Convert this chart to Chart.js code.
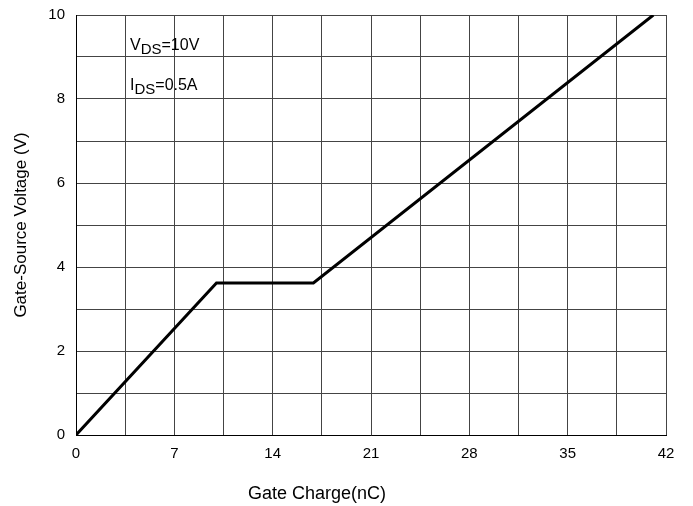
<!DOCTYPE html>
<html>
<head>
<meta charset="utf-8">
<script src="https://cdn.jsdelivr.net/npm/chart.js@4"></script>
<style>
  html, body { margin: 0; padding: 0; background: #fff; }
  #wrap { width: 693px; height: 506px; }
</style>
</head>
<body>
<div id="wrap"><canvas id="gate-charge"></canvas></div>
<script>
// Gate charge curve (knee points)
const gateCharge = [0, 10.0, 16.9, 41.1];      // nC
const gateVoltage = [0, 3.62, 3.62, 10];        // V
const xTickLabels = [0, 7, 14, 21, 28, 35, 42];
const yTickLabels = [0, 2, 4, 6, 8, 10];
const xTitle = 'Gate Charge(nC)';
const yTitle = 'Gate-Source Voltage (V)';
const notes = [
    { main: 'V', sub: 'DS', rest: '=10V' },
    { main: 'I', sub: 'DS', rest: '=0.5A' }
];

const FONT = '"Liberation Sans", Arial, sans-serif';

// notes with subscripts + x title (sits left of the plot centre in the original)
const notesPlugin = {
    id: 'notes',
    afterDraw(chart) {
        const ctx = chart.ctx;
        const area = chart.chartArea;
        ctx.save();
        ctx.fillStyle = '#000';
        ctx.textBaseline = 'alphabetic';
        ctx.textAlign = 'left';
        notes.forEach((n, i) => {
            let x = area.left + 54;
            const y = area.top + 35 + i * 40;
            ctx.font = '16px ' + FONT;
            ctx.fillText(n.main, x, y);
            x += ctx.measureText(n.main).width;
            ctx.font = '15px ' + FONT;
            ctx.fillText(n.sub, x, y + 4);
            x += ctx.measureText(n.sub).width;
            ctx.font = '16px ' + FONT;
            ctx.fillText(n.rest, x, y);
        });

        ctx.font = '18px ' + FONT;
        ctx.textAlign = 'center';
        ctx.textBaseline = 'middle';
        ctx.fillText(xTitle, 317, 494);
        ctx.restore();
    }
};

const ctx = document.getElementById('gate-charge').getContext('2d');
new Chart(ctx, {
    type: 'line',
    data: {
        datasets: [{
            data: gateCharge.map((q, i) => ({ x: q, y: gateVoltage[i] })),
            borderColor: '#000',
            borderWidth: 3,
            pointRadius: 0,
            tension: 0,
            fill: false
        }]
    },
    options: {
        responsive: true,
        maintainAspectRatio: false,
        animation: false,
        layout: { padding: { left: 0, right: 27, top: 15, bottom: 0 } },
        plugins: {
            legend: { display: false },
            tooltip: { enabled: false }
        },
        scales: {
            x: {
                type: 'linear',
                min: 0,
                max: 42,
                afterFit: (scale) => {
                    scale.height = 71;
                    scale.paddingLeft = 0;
                    scale.paddingRight = 0;
                },
                ticks: {
                    stepSize: 3.5,
                    autoSkip: false,
                    maxRotation: 0,
                    padding: 10,
                    color: '#000',
                    font: { family: FONT, size: 15 },
                    callback: (v) => xTickLabels.includes(v) ? String(v) : ''
                },
                grid: { color: '#444', lineWidth: 1, drawTicks: false },
                border: { color: '#000', width: 1 }
            },
            y: {
                min: 0,
                max: 10,
                afterFit: (scale) => {
                    scale.width = 76;
                    scale.paddingTop = 0;
                    scale.paddingBottom = 0;
                },
                ticks: {
                    stepSize: 1,
                    autoSkip: false,
                    padding: 11,
                    color: '#000',
                    font: { family: FONT, size: 15 },
                    callback: (v) => yTickLabels.includes(v) ? String(v) : ''
                },
                grid: { color: '#444', lineWidth: 1, drawTicks: false },
                border: { color: '#000', width: 1 },
                title: {
                    display: true,
                    text: yTitle,
                    color: '#000',
                    font: { family: FONT, size: 17 },
                    padding: { top: 11, bottom: 0 }
                }
            }
        }
    },
    plugins: [notesPlugin]
});
</script>
</body>
</html>
